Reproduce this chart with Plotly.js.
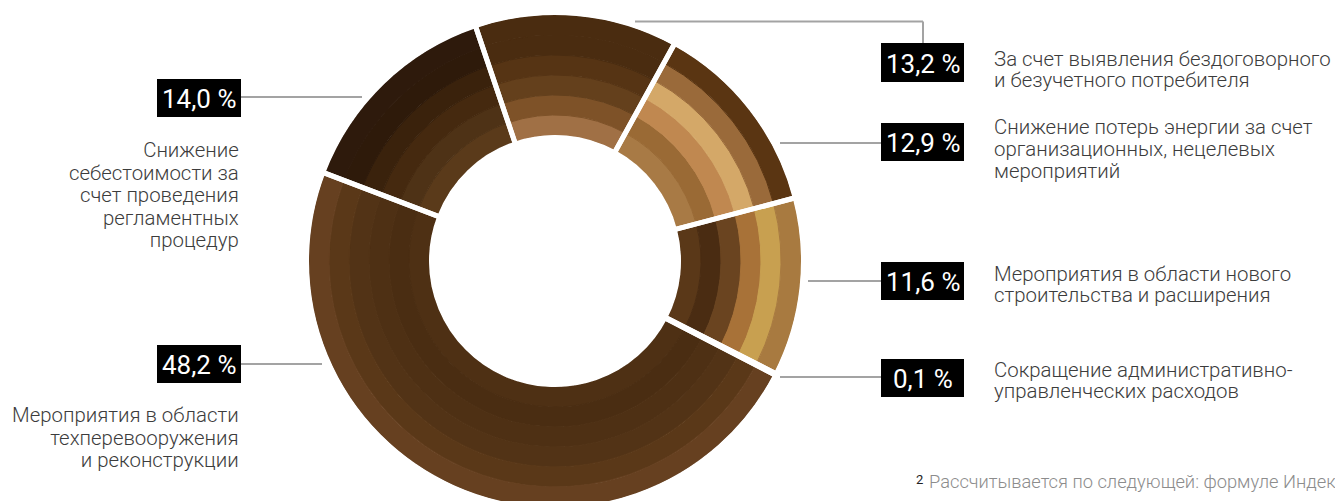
<!DOCTYPE html>
<html><head><meta charset="utf-8">
<script src="https://cdn.plot.ly/plotly-3.0.1.min.js"></script>
<style>
html,body{margin:0;padding:0;background:#fff;overflow:hidden}
#wrap{width:1335px;height:501px;overflow:hidden;position:relative}
#chart{width:1335px;height:520px}
</style></head>
<body><div id="wrap"><div id="chart"></div></div>
<script>
// ---------- DATA ----------
const values = [13.2, 12.9, 11.6, 0.1, 48.2, 14.0];
const valueLabels = ['13,2 %', '12,9 %', '11,6 %', '0,1 %', '48,2 %', '14,0 %'];
const descriptions = [
  ['За счет выявления бездоговорного', 'и безучетного потребителя'],
  ['Снижение потерь энергии за счет', 'организационных, нецелевых', 'мероприятий'],
  ['Мероприятия в области нового', 'строительства и расширения'],
  ['Сокращение административно-', 'управленческих расходов'],
  ['Мероприятия в области', 'техперевооружения', 'и реконструкции'],
  ['Снижение', 'себестоимости за', 'счет проведения', 'регламентных', 'процедур']
];
const categories = descriptions.map(d => d.join(' '));
const footnoteMark = '2';
const footnoteText = 'Рассчитывается по следующей: формуле Индек';

// ---------- STYLE / GEOMETRY ----------
const W = 1335, H = 520, CX = 555, CY = 261;
const ringRadii = [126, 146, 166, 186, 206, 226, 246];
// colours per ring (inner -> outer), one per slice
const ringColors = [
  ['#a07045', '#a87a45', '#5a3818', '#4e3014', '#4e3014', '#5a3a1a'],
  ['#7e5228', '#9a6a35', '#4a2c12', '#4e3014', '#4a2d12', '#4e3216'],
  ['#64401c', '#c08850', '#6a4420', '#523416', '#4e3014', '#45290f'],
  ['#563414', '#d4a868', '#a87238', '#573818', '#523316', '#3a220c'],
  ['#4a2c10', '#9a6a3a', '#c8a050', '#5e3c1a', '#5a3818', '#2e1a0a'],
  ['#4a2c10', '#5a3512', '#a87a40', '#6a4420', '#664020', '#2e1a0c']
];
const labelLayout = [
  {box: [881, 43, 964, 82],  line: [[635, 21.5], [923, 21.5], [923, 43]], tx: 993, side: 'left',  base: 66, gap: 21},
  {box: [881, 123, 964, 161], line: [[780, 143], [881, 143]], tx: 993, side: 'left', base: 134, gap: 22},
  {box: [881, 262, 964, 300], line: [[808, 281], [881, 281]], tx: 993, side: 'left', base: 281, gap: 21},
  {box: [881, 359, 964, 397], line: [[780, 377], [881, 377]], tx: 993, side: 'left', base: 377, gap: 21},
  {box: [157, 345, 241, 383], line: [[241, 364], [322, 364]], tx: 240, side: 'right', base: 422, gap: 22.5},
  {box: [157, 79, 241, 117],  line: [[241, 97], [362, 97]],  tx: 240, side: 'right', base: 157, gap: 22.5}
];
const FONT = 'Roboto, "Open Sans", sans-serif';
const TXT = 20.4;
const px = x => x / W, py = y => 1 - y / H;

// ---------- TRACES ----------
const traces = [];
for (let k = 0; k < ringRadii.length - 1; k++) {
  const rIn = ringRadii[k], rOut = ringRadii[k + 1];
  traces.push({
    type: 'pie', values: values, labels: categories, sort: false,
    direction: 'clockwise', rotation: -18.7, hole: rIn / rOut,
    domain: {x: [px(CX - rOut), px(CX + rOut)], y: [py(CY + rOut), py(CY - rOut)]},
    marker: {colors: ringColors[k], line: {color: ringColors[k], width: 1}},
    textinfo: 'none', hoverinfo: 'skip', showlegend: false
  });
}
const rSep = 248.5, rSepIn = 123.5;
traces.push({
  type: 'pie', values: values, labels: categories, sort: false,
  direction: 'clockwise', rotation: -18.7, hole: rSepIn / rSep,
  domain: {x: [px(CX - rSep), px(CX + rSep)], y: [py(CY + rSep), py(CY - rSep)]},
  marker: {colors: values.map(() => 'rgba(0,0,0,0)'), line: {color: '#ffffff', width: 5}},
  textinfo: 'none', hoverinfo: 'skip', showlegend: false
});

// ---------- SHAPES & ANNOTATIONS ----------
const shapes = [], annotations = [];
labelLayout.forEach((L, i) => {
  for (let j = 0; j < L.line.length - 1; j++) {
    shapes.push({type: 'line', xref: 'paper', yref: 'paper', layer: 'below',
      x0: px(L.line[j][0]), y0: py(L.line[j][1]), x1: px(L.line[j + 1][0]), y1: py(L.line[j + 1][1]),
      line: {color: '#a3a3a3', width: 2}});
  }
  shapes.push({type: 'rect', xref: 'paper', yref: 'paper', layer: 'above',
    x0: px(L.box[0]), y0: py(L.box[3]), x1: px(L.box[2]), y1: py(L.box[1]),
    fillcolor: '#000000', line: {width: 0}});
  annotations.push({xref: 'paper', yref: 'paper', showarrow: false,
    x: px((L.box[0] + L.box[2]) / 2), y: py((L.box[1] + L.box[3]) / 2 + 1),
    xanchor: 'center', yanchor: 'middle', text: valueLabels[i],
    font: {family: FONT, size: 26, color: '#ffffff'}});
  // one text block per description; line spacing = 1.3 * block font size
  const blockSize = L.gap / 1.3;
  annotations.push({xref: 'paper', yref: 'paper', showarrow: false,
    x: px(L.tx), y: py(L.base - 0.93 * TXT - 1), xanchor: L.side, yanchor: 'top',
    align: L.side, borderpad: 0,
    text: descriptions[i].map(t => '<span style="font-size:' + TXT + 'px">' + t + '</span>').join('<br>'),
    font: {family: FONT, size: blockSize, color: '#3c3c3c', weight: 300}});
});
annotations.push({xref: 'paper', yref: 'paper', showarrow: false,
  x: px(914), y: py(479), xanchor: 'left', yanchor: 'middle', text: footnoteMark,
  font: {family: FONT, size: 13, color: '#222222'}});
annotations.push({xref: 'paper', yref: 'paper', showarrow: false,
  x: px(927), y: py(488 - 0.34 * 18.3), xanchor: 'left', yanchor: 'middle', text: footnoteText,
  font: {family: FONT, size: 18.3, color: '#8c8c8c', weight: 300}});

Plotly.newPlot('chart', traces, {
  width: W, height: H, margin: {l: 0, r: 0, t: 0, b: 0},
  paper_bgcolor: '#ffffff', plot_bgcolor: '#ffffff', showlegend: false,
  shapes: shapes, annotations: annotations
}, {displayModeBar: false, staticPlot: true});
</script></body></html>
